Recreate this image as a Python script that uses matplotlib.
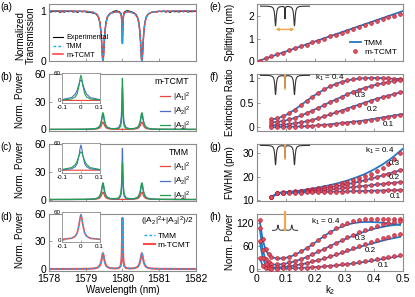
import matplotlib
matplotlib.use("Agg")
import matplotlib.pyplot as plt

plt.rcParams['font.family'] = ['Liberation Sans', 'DejaVu Sans']
plt.rcParams['mathtext.default'] = 'regular'
plt.rcParams['font.size'] = 7.5

# ---------------- datos (a): transmision ----------------
wl = [1578.0, 1578.5, 1579.0, 1579.2, 1579.3, 1579.35, 1579.39, 1579.42, 1579.435, 1579.45,
      1579.46, 1579.47, 1579.48, 1579.49, 1579.505, 1579.52, 1579.55, 1579.59, 1579.67, 1579.8,
      1579.9, 1579.95, 1579.97, 1579.98, 1579.99, 1579.995, 1580.0, 1580.005, 1580.01, 1580.02,
      1580.03, 1580.05, 1580.1, 1580.2, 1580.33, 1580.41, 1580.45, 1580.48, 1580.495, 1580.51,
      1580.52, 1580.53, 1580.54, 1580.55, 1580.565, 1580.58, 1580.61, 1580.65, 1580.7, 1580.8,
      1581.0, 1581.5, 1582.0]

T_tcmt = [0.998, 0.997, 0.990, 0.972, 0.933, 0.875, 0.758, 0.551, 0.375, 0.163,
          0.045, 0.0, 0.045, 0.163, 0.375, 0.550, 0.757, 0.874, 0.948, 0.976,
          0.975, 0.951, 0.899, 0.819, 0.614, 0.449, 0.356, 0.449, 0.614, 0.819,
          0.899, 0.951, 0.975, 0.976, 0.948, 0.874, 0.757, 0.550, 0.375, 0.163,
          0.045, 0.0, 0.045, 0.163, 0.375, 0.551, 0.758, 0.875, 0.933, 0.972,
          0.990, 0.997, 0.998]
# TMM y m-TCMT coinciden a esta escala
T_tmm = list(T_tcmt)

exp_wl = [1578.00, 1578.06, 1578.12, 1578.18, 1578.24, 1578.30, 1578.36, 1578.42, 1578.48, 1578.54,
          1578.60, 1578.66, 1578.72, 1578.78, 1578.84, 1578.90, 1578.96, 1579.02, 1579.08, 1579.14,
          1579.20, 1579.26, 1579.30, 1579.35, 1579.39, 1579.42, 1579.435, 1579.45, 1579.46, 1579.47,
          1579.48, 1579.49, 1579.505, 1579.52, 1579.55, 1579.59, 1579.64, 1579.70, 1579.76, 1579.82,
          1579.88, 1579.93, 1579.96, 1579.98, 1579.99, 1580.00, 1580.01, 1580.02, 1580.04, 1580.08,
          1580.14, 1580.20, 1580.26, 1580.32, 1580.38, 1580.41, 1580.45, 1580.48, 1580.495, 1580.51,
          1580.52, 1580.53, 1580.54, 1580.55, 1580.565, 1580.58, 1580.61, 1580.65, 1580.70, 1580.76,
          1580.82, 1580.88, 1580.94, 1581.00, 1581.06, 1581.12, 1581.18, 1581.24, 1581.30, 1581.36,
          1581.42, 1581.48, 1581.54, 1581.60, 1581.66, 1581.72, 1581.78, 1581.84, 1581.90, 1581.96,
          1582.00]
exp_T = [0.985, 0.975, 0.990, 0.980, 0.995, 0.970, 0.985, 0.975, 0.990, 0.980,
         0.995, 0.975, 0.985, 0.970, 0.990, 0.980, 0.985, 0.975, 0.970, 0.965,
         0.955, 0.945, 0.925, 0.87, 0.75, 0.55, 0.37, 0.16, 0.05, 0.01,
         0.05, 0.17, 0.38, 0.56, 0.76, 0.88, 0.93, 0.96, 0.985, 1.0,
         0.99, 0.975, 0.95, 0.86, 0.66, 0.38, 0.67, 0.87, 0.96, 0.99,
         1.0, 0.99, 0.975, 0.955, 0.92, 0.86, 0.75, 0.55, 0.37, 0.16,
         0.05, 0.01, 0.05, 0.17, 0.38, 0.56, 0.76, 0.88, 0.93, 0.96,
         0.975, 0.985, 0.975, 0.99, 0.98, 0.99, 0.975, 0.985, 0.97, 0.99,
         0.98, 0.985, 0.975, 0.99, 0.98, 0.995, 0.975, 0.985, 0.98, 0.99,
         0.985]

# ---------------- datos (b)-(d): potencias normalizadas ----------------
A1_pow = [0.01, 0.02, 0.08, 0.22, 0.53, 1.0, 1.94, 3.59, 5.0, 6.69,
          7.64, 8.01, 7.64, 6.69, 5.0, 3.59, 1.94, 1.0, 0.41, 0.18,
          0.13, 0.12, 0.12, 0.12, 0.12, 0.12, 0.11, 0.12, 0.12, 0.12,
          0.12, 0.12, 0.13, 0.18, 0.41, 1.0, 1.94, 3.59, 5.0, 6.69,
          7.64, 8.01, 7.64, 6.69, 5.0, 3.59, 1.94, 1.0, 0.53, 0.22,
          0.08, 0.02, 0.01]
A2_tcmt = [0.02, 0.05, 0.18, 0.48, 1.11, 2.04, 3.92, 7.24, 10.05, 13.45,
           15.34, 16.09, 15.34, 13.45, 10.07, 7.27, 3.97, 2.12, 0.98, 0.80,
           1.98, 6.45, 14.09, 22.73, 36.23, 42.58, 45.23, 42.58, 36.23, 22.73,
           14.09, 6.45, 1.98, 0.80, 0.98, 2.12, 3.97, 7.27, 10.07, 13.45,
           15.34, 16.09, 15.34, 13.45, 10.05, 7.24, 3.92, 2.04, 1.11, 0.48,
           0.18, 0.05, 0.02]
A3_tcmt = [0.02, 0.05, 0.19, 0.52, 1.22, 2.28, 4.38, 8.11, 11.28, 15.10,
           17.22, 18.07, 17.22, 15.10, 11.28, 8.12, 4.40, 2.31, 0.99, 0.60,
           1.07, 3.26, 7.85, 14.84, 32.71, 47.12, 55.26, 47.12, 32.71, 14.84,
           7.85, 3.26, 1.07, 0.60, 0.99, 2.31, 4.40, 8.12, 11.28, 15.10,
           17.22, 18.07, 17.22, 15.10, 11.28, 8.11, 4.38, 2.28, 1.22, 0.52,
           0.19, 0.05, 0.02]
A2_tmm = [0.02, 0.04, 0.17, 0.46, 1.09, 2.03, 3.90, 7.22, 10.03, 13.43,
          15.31, 16.07, 15.31, 13.43, 10.03, 7.23, 3.92, 2.06, 0.88, 0.55,
          1.03, 3.23, 7.82, 14.81, 32.68, 47.09, 55.23, 47.09, 32.68, 14.81,
          7.82, 3.23, 1.03, 0.55, 0.88, 2.06, 3.92, 7.23, 10.03, 13.43,
          15.31, 16.07, 15.31, 13.43, 10.03, 7.22, 3.90, 2.03, 1.09, 0.46,
          0.17, 0.04, 0.02]
A3_tmm = [0.02, 0.05, 0.19, 0.53, 1.23, 2.28, 4.39, 8.13, 11.29, 15.11,
          17.24, 18.09, 17.24, 15.12, 11.31, 8.15, 4.44, 2.36, 1.07, 0.79,
          1.83, 5.78, 12.58, 20.26, 32.26, 37.9, 40.26, 37.9, 32.26, 20.26,
          12.58, 5.78, 1.83, 0.79, 1.07, 2.36, 4.44, 8.15, 11.31, 15.12,
          17.24, 18.09, 17.24, 15.11, 11.29, 8.13, 4.39, 2.28, 1.23, 0.53,
          0.19, 0.05, 0.02]
Pavg_tcmt = [0.02, 0.04, 0.18, 0.49, 1.16, 2.15, 4.14, 7.67, 10.65, 14.26,
             16.27, 17.07, 16.27, 14.26, 10.66, 7.68, 4.16, 2.18, 0.94, 0.57,
             1.05, 3.25, 7.84, 14.82, 32.69, 47.1, 55.24, 47.1, 32.69, 14.82,
             7.84, 3.25, 1.05, 0.57, 0.94, 2.18, 4.16, 7.68, 10.66, 14.26,
             16.27, 17.07, 16.27, 14.26, 10.65, 7.67, 4.14, 2.15, 1.16, 0.49,
             0.18, 0.04, 0.02]
Pavg_tmm = list(Pavg_tcmt)

# ---------------- datos (e): splitting ----------------
k2_e_tmm = [0, 0.05, 0.1, 0.15, 0.2, 0.25, 0.3, 0.35, 0.4, 0.45, 0.5]
split_tmm = [0, 0.22, 0.44, 0.66, 0.88, 1.1, 1.32, 1.54, 1.76, 1.98, 2.2]
k2_e = [0.01, 0.03, 0.05, 0.07, 0.09, 0.11, 0.13, 0.15, 0.17, 0.19, 0.21, 0.23, 0.25,
        0.27, 0.29, 0.31, 0.33, 0.35, 0.37, 0.39, 0.41, 0.43, 0.45, 0.47, 0.49]
split_tcmt = [0.04, 0.13, 0.22, 0.31, 0.39, 0.48, 0.57, 0.66, 0.74, 0.83, 0.91, 1.0, 1.09,
              1.17, 1.26, 1.34, 1.43, 1.51, 1.6, 1.68, 1.76, 1.84, 1.92, 2.0, 2.08]

# ---------------- datos (f), (g) ----------------
k2_lin = [0.05, 0.07, 0.1, 0.13, 0.16, 0.19, 0.22, 0.25, 0.28, 0.31, 0.34, 0.37, 0.4, 0.43, 0.46, 0.5]
k2_pts = [0.05, 0.07, 0.09, 0.11, 0.13, 0.15, 0.17, 0.19, 0.21, 0.23, 0.25, 0.27,
          0.29, 0.31, 0.33, 0.35, 0.37, 0.39, 0.41, 0.43, 0.45, 0.47, 0.49]
k1_vals = ['0.4', '0.3', '0.2', '0.1']

er_tmm = [
    [0.16, 0.18, 0.25, 0.36, 0.49, 0.62, 0.73, 0.83, 0.9, 0.95, 0.98, 0.995, 1.0, 0.995, 0.985, 0.975],
    [0.1, 0.11, 0.14, 0.19, 0.26, 0.34, 0.42, 0.51, 0.59, 0.67, 0.74, 0.8, 0.85, 0.89, 0.93, 0.96],
    [0.04, 0.05, 0.06, 0.08, 0.11, 0.15, 0.2, 0.26, 0.32, 0.38, 0.44, 0.5, 0.56, 0.61, 0.66, 0.72],
    [0.0, 0.005, 0.01, 0.015, 0.02, 0.03, 0.045, 0.06, 0.08, 0.1, 0.12, 0.14, 0.17, 0.2, 0.23, 0.27]]
er_tcmt = [
    [0.16, 0.18, 0.22, 0.28, 0.36, 0.45, 0.53, 0.62, 0.70, 0.77, 0.83, 0.88, 0.92, 0.95, 0.97, 0.99,
     1.0, 1.0, 1.0, 0.99, 0.99, 0.98, 0.98],
    [0.1, 0.11, 0.13, 0.16, 0.19, 0.24, 0.29, 0.34, 0.39, 0.45, 0.51, 0.56, 0.62, 0.67, 0.72, 0.76,
     0.8, 0.84, 0.87, 0.9, 0.92, 0.94, 0.96],
    [0.04, 0.05, 0.055, 0.065, 0.08, 0.1, 0.12, 0.15, 0.18, 0.22, 0.26, 0.3, 0.34, 0.38, 0.42, 0.46,
     0.5, 0.54, 0.57, 0.61, 0.64, 0.68, 0.71],
    [0.0, 0.005, 0.008, 0.011, 0.015, 0.018, 0.023, 0.03, 0.037, 0.045, 0.055, 0.066, 0.078, 0.09,
     0.103, 0.117, 0.132, 0.148, 0.165, 0.185, 0.205, 0.228, 0.25]]

fw_tmm = [
    [11.0, 12.9, 13.3, 13.7, 14.2, 14.8, 15.5, 16.3, 17.2, 18.3, 19.6, 21.1, 23.0, 25.2, 27.8, 32.0],
    [11.0, 12.9, 13.2, 13.5, 13.9, 14.3, 14.8, 15.4, 16.0, 16.7, 17.5, 18.4, 19.4, 20.5, 21.6, 23.0],
    [11.0, 12.9, 13.1, 13.3, 13.5, 13.8, 14.1, 14.4, 14.8, 15.2, 15.6, 16.0, 16.4, 16.8, 17.2, 17.7],
    [11.0, 12.8, 12.9, 13.0, 13.1, 13.2, 13.3, 13.4, 13.5, 13.6, 13.7, 13.8, 13.9, 14.0, 14.1, 14.2]]
fw_tcmt = [
    [11.0, 12.9, 13.2, 13.4, 13.6, 13.9, 14.2, 14.6, 15.0, 15.4, 15.9, 16.5, 17.1, 17.8, 18.5, 19.3,
     20.2, 21.2, 22.3, 23.7, 25.3, 27.6, 30.3],
    [11.0, 12.9, 13.1, 13.3, 13.5, 13.7, 14.0, 14.3, 14.6, 15.0, 15.4, 15.8, 16.3, 16.8, 17.3, 17.9,
     18.5, 19.2, 19.9, 20.6, 21.3, 22.0, 22.8],
    [11.0, 12.9, 13.0, 13.2, 13.3, 13.5, 13.7, 13.9, 14.1, 14.3, 14.6, 14.8, 15.1, 15.4, 15.6, 15.9,
     16.1, 16.4, 16.6, 16.9, 17.1, 17.3, 17.5],
    [11.0, 12.8, 12.9, 12.95, 13.0, 13.1, 13.15, 13.2, 13.3, 13.35, 13.4, 13.5, 13.55, 13.6, 13.7,
     13.75, 13.8, 13.85, 13.9, 13.95, 14.0, 14.05, 14.1]]

# ---------------- datos (h) ----------------
k2_h = [0.01, 0.02, 0.03, 0.04, 0.05, 0.07, 0.09, 0.11, 0.13, 0.15, 0.17, 0.19, 0.21, 0.23,
        0.25, 0.27, 0.29, 0.31, 0.33, 0.35, 0.37, 0.39, 0.41, 0.43, 0.45, 0.47, 0.49]
pw_tmm = [
    [125, 75, 50, 37, 31, 27, 28, 31, 37, 45, 54, 64, 75, 86, 96, 104, 111, 116, 120, 122, 123, 123,
     122, 121, 119, 117, 115],
    [105, 48, 25, 16, 12, 11, 13, 16, 20, 25, 31, 38, 45, 52, 60, 67, 74, 81, 87, 93, 98, 103, 107,
     110, 113, 115, 117],
    [72, 28, 11, 6, 4, 4, 5, 7, 9, 12, 15, 19, 23, 27, 32, 37, 42, 47, 52, 57, 62, 66, 70, 74, 78, 81, 84],
    [28, 8, 3, 1.5, 1, 1, 1.3, 1.7, 2.2, 2.8, 3.5, 4.4, 5.4, 6.5, 7.8, 9.2, 10.8, 12.5, 14.4, 16.4,
     18.6, 21, 23.4, 26, 28.6, 31.2, 33.8]]
pw_tcmt = [
    [128, 78, 52, 38, 32, 28, 29, 32, 38, 46, 55, 65, 76, 87, 97, 106, 114, 120, 125, 128, 130, 131,
     132, 132, 132, 132, 132],
    [108, 50, 26, 17, 13, 12, 14, 17, 21, 26, 32, 39, 46, 53, 61, 69, 76, 83, 90, 96, 102, 108, 113,
     117, 121, 124, 126],
    [74, 29, 12, 6, 5, 5, 6, 8, 10, 13, 16, 20, 24, 29, 34, 39, 44, 49, 55, 60, 65, 70, 75, 80, 84, 88, 92],
    [29, 9, 3, 1.6, 1.1, 1.1, 1.4, 1.8, 2.3, 3, 3.8, 4.7, 5.8, 7, 8.4, 10, 11.7, 13.5, 15.5, 17.7,
     20, 22.5, 25.2, 28, 31, 34, 37]]

# ---------------- estilo ----------------
gris = '#8c8c8c'
azul = '#2178c4'
rojo_pt = '#e0505c'
borde_pt = '#b8203a'
naranja = '#f4a64a'
c_rojo, c_azul, c_verde = '#e8473a', '#4a6fc8', '#1fa050'
fs_lab = 7


def estilo(ax, fs=7.5):
    for s in ax.spines.values():
        s.set_color(gris)
        s.set_linewidth(0.8)
    ax.tick_params(direction='in', length=2.5, width=0.6, color=gris, labelsize=fs, pad=2)


fig = plt.figure(figsize=(4.15, 2.97), dpi=100)

bases = [0.793, 0.558, 0.322, 0.088]
axL = [fig.add_axes([0.118, b, 0.354, 0.193]) for b in bases]
axR = [fig.add_axes([0.619, b, 0.352, 0.193]) for b in bases]

for ax in axL:
    estilo(ax)
    ax.set_xlim(1578, 1582)
    ax.set_xticks([1578, 1579, 1580, 1581, 1582])
for ax in axL[:3]:
    ax.set_xticklabels([])
for ax in axR:
    estilo(ax)
    ax.set_xlim(0, 0.5)
    ax.set_xticks([0, 0.1, 0.2, 0.3, 0.4, 0.5])
for ax in axR[:3]:
    ax.set_xticklabels([])

# etiquetas de panel
for ya, l1, l2 in zip([0.975, 0.74, 0.505, 0.27], 'abcd', 'efgh'):
    fig.text(0.002, ya, '(%s)' % l1, fontsize=7, va='center')
    fig.text(0.505, ya, '(%s)' % l2, fontsize=7, va='center')

# (a) transmision
ax = axL[0]
ax.plot(exp_wl, exp_T, color='black', lw=0.8, label='Experimental', zorder=2)
ax.plot(wl, T_tcmt, color='#ff3b3b', lw=1.1, label='m-TCMT', zorder=3)
ax.plot(wl, T_tmm, color='#1aa7ec', lw=1.0, ls=(0, (2, 1.5)), label='TMM', zorder=4)
ax.set_ylim(0, 1.13)
ax.set_yticks([0, 1])
ax.set_ylabel('Normalized\nTransmission', fontsize=fs_lab, linespacing=1.0)
ax.yaxis.set_label_coords(-0.09, 0.45)
h, lab = ax.get_legend_handles_labels()
ax.legend([h[0], h[2], h[1]], [lab[0], lab[2], lab[1]], loc='lower left', fontsize=5.2,
          frameon=False, handlelength=1.5, handletextpad=0.4, labelspacing=0.25,
          borderaxespad=0.1, bbox_to_anchor=(0.0, -0.02))


def espectro(ax, series, titulo):
    for y, col, lab in series:
        ax.plot(wl, y, color=col, lw=0.9, label=lab)
    ax.set_ylim(-2, 60)
    ax.set_yticks([0, 30, 60])
    ax.set_ylabel('Norm. Power', fontsize=fs_lab)
    ax.yaxis.set_label_coords(-0.165, 0.55)
    ax.text(0.955, 0.86, titulo, transform=ax.transAxes, ha='right', va='center', fontsize=6.3)
    ax.legend(loc='upper right', bbox_to_anchor=(1.0, 0.8), fontsize=5.8, frameon=False,
              handlelength=1.2, handletextpad=0.4, labelspacing=0.15, borderaxespad=0.2)


def recuadro(fig, base, series, estilos):
    ins = fig.add_axes([0.15, base, 0.09, 0.1])
    for y, st in zip(series, estilos):
        ins.plot(wl, y, **st)
    ins.set_xlim(1579.9, 1580.1)
    ins.set_ylim(-5, 60)
    for s in ins.spines.values():
        s.set_color(gris)
        s.set_linewidth(0.6)
    ins.tick_params(direction='in', length=1.5, width=0.5, color=gris, labelsize=4.5, pad=1)
    ins.tick_params(axis='x', pad=1.5)
    ins.set_xticks([1579.9, 1580.0, 1580.1])
    ins.set_xticklabels(['-0.1', '0', '0.1'])
    ins.set_yticks([0, 60])
    return ins


lab1, lab2, lab3 = '$|A_1|^2$', '$|A_2|^2$', '$|A_3|^2$'
espectro(axL[1], [(A1_pow, c_rojo, lab1), (A2_tcmt, c_azul, lab2), (A3_tcmt, c_verde, lab3)], 'm-TCMT')
recuadro(fig, 0.654, [A1_pow, A2_tcmt, A3_tcmt],
         [dict(color=c_rojo, lw=0.8), dict(color=c_azul, lw=0.8), dict(color=c_verde, lw=0.8)])
espectro(axL[2], [(A1_pow, c_rojo, lab1), (A2_tmm, c_azul, lab2), (A3_tmm, c_verde, lab3)], 'TMM')
recuadro(fig, 0.419, [A1_pow, A2_tmm, A3_tmm],
         [dict(color=c_rojo, lw=0.8), dict(color=c_azul, lw=0.8), dict(color=c_verde, lw=0.8)])

# (d) promedio
ax = axL[3]
ax.plot(wl, Pavg_tcmt, color='#ff4d4d', lw=1.5, label='m-TCMT')
ax.plot(wl, Pavg_tmm, color='#1aa7ec', lw=1.0, ls=(0, (2, 1.5)), label='TMM')
ax.set_ylim(-2, 60)
ax.set_yticks([0, 30, 60])
ax.set_ylabel('Norm. Power', fontsize=fs_lab)
ax.yaxis.set_label_coords(-0.165, 0.55)
ax.set_xlabel('Wavelength (nm)', fontsize=fs_lab, labelpad=1)
ax.text(0.985, 0.86, '($|A_2|^2$+$|A_3|^2$)/2', transform=ax.transAxes, ha='right',
        va='center', fontsize=6)
h, lab = ax.get_legend_handles_labels()
ax.legend([h[1], h[0]], [lab[1], lab[0]], loc='upper right', bbox_to_anchor=(1.0, 0.76),
          fontsize=6, frameon=False, handlelength=1.3, handletextpad=0.4, labelspacing=0.15,
          borderaxespad=0.2)
recuadro(fig, 0.185, [Pavg_tcmt, Pavg_tmm],
         [dict(color='#ff4d4d', lw=1.2), dict(color='#1aa7ec', lw=0.8, ls=(0, (2, 1.5)))])

# ---------------- columna derecha ----------------
pt = dict(ls='none', marker='o', ms=2.7, mfc=rojo_pt, mec=borde_pt, mew=0.5, zorder=3)

# (e)
ax = axR[0]
ax.plot(k2_e_tmm, split_tmm, color=azul, lw=1.3, label='TMM', zorder=2)
ax.plot(k2_e, split_tcmt, label='m-TCMT', **pt)
ax.set_ylim(0, 2.5)
ax.set_yticks([0, 1, 2])
ax.set_ylabel('Splitting (nm)', fontsize=fs_lab)
ax.legend(loc='lower right', fontsize=6, frameon=False, handlelength=1.3,
          handletextpad=0.4, labelspacing=0.15, borderaxespad=0.3)

# (f)
ax = axR[1]
for i in range(4):
    ax.plot(k2_lin, er_tmm[i], color=azul, lw=1.3, zorder=2)
    ax.plot(k2_pts, er_tcmt[i], **pt)
ax.set_ylim(-0.08, 1.08)
ax.set_yticks([0, 0.5, 1])
ax.set_yticklabels(['0', '0.5', '1'])
ax.set_ylabel('Extinction Ratio', fontsize=fs_lab)
for x, y, t in zip([0.2, 0.335, 0.375, 0.43], [1.0, 0.64, 0.36, 0.05], k1_vals):
    ax.text(x, y, ('k$_1$ = ' + t) if t == '0.4' else t, fontsize=5.8, va='center')

# (g)
ax = axR[2]
for i in range(4):
    ax.plot(k2_lin, fw_tmm[i], color=azul, lw=1.3, zorder=2)
    ax.plot(k2_pts, fw_tcmt[i], **pt)
ax.set_ylim(9.3, 34)
ax.set_yticks([10, 20, 30])
ax.set_ylabel('FWHM (pm)', fontsize=fs_lab)
for x, y, t in zip([0.37, 0.45, 0.45, 0.455], [31.0, 25.6, 19.6, 11.6], k1_vals):
    ax.text(x, y, ('k$_1$ = ' + t) if t == '0.4' else t, fontsize=5.8, va='center')

# (h)
ax = axR[3]
for i in range(4):
    ax.plot(k2_h, pw_tmm[i], color=azul, lw=1.3, zorder=2)
    ax.plot(k2_h, pw_tcmt[i], **pt)
ax.set_ylim(-5, 145)
ax.set_yticks([0, 60, 120])
ax.set_ylabel('Norm. Power', fontsize=fs_lab)
ax.set_xlabel('k$_2$', fontsize=fs_lab, labelpad=0)
ax.set_xticklabels(['0', '0.1', '0.2', '0.3', '0.4', '0.5'])
for x, y, t in zip([0.185, 0.335, 0.37, 0.415], [124, 80, 48, 10], k1_vals):
    ax.text(x, y, ('k$_1$ = ' + t) if t == '0.4' else t, fontsize=5.8, va='center')

for ax in axR:
    ax.yaxis.set_label_coords(-0.15, 0.5)

# pequenos esquemas sobre los paneles de la derecha
sk = fig.add_axes([0.6265, 0.893, 0.1205, 0.09])
sk.plot(wl, T_tcmt, color='#333333', lw=0.8)
sk.annotate('', xy=(1579.47, -0.18), xytext=(1580.53, -0.18),
            arrowprops=dict(arrowstyle='<|-|>', color=naranja, lw=1.0, mutation_scale=4,
                            shrinkA=0, shrinkB=0))
sk.set_xlim(1578.6, 1581.4)
sk.set_ylim(-0.3, 1.05)
sk.axis('off')

for base in [0.678, 0.442]:
    sk = fig.add_axes([0.6265, base, 0.1205, 0.072])
    sk.plot(wl, T_tcmt, color='#333333', lw=0.8)
    sk.plot([1580.0, 1580.0], [0.3, 1.0], color=naranja, lw=1.2)
    sk.set_xlim(1578.6, 1581.4)
    sk.set_ylim(-0.05, 1.05)
    sk.axis('off')

sk = fig.add_axes([0.655, 0.222, 0.063, 0.066])
sk.plot(wl, Pavg_tcmt, color='#333333', lw=0.7)
sk.plot([1580.0, 1580.0], [0, 60], color=naranja, lw=1.6)
sk.set_xlim(1579.0, 1581.0)
sk.set_ylim(-2, 60)
sk.axis('off')

fig.savefig('out.png', dpi=100)
